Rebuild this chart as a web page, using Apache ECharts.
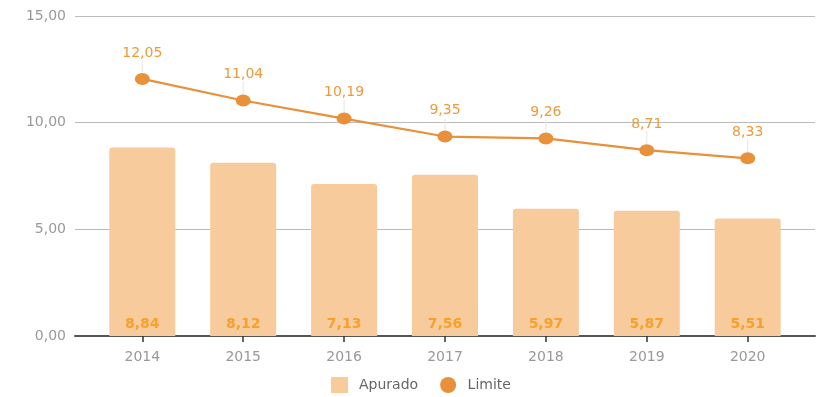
<!DOCTYPE html>
<html>
<head>
<meta charset="utf-8">
<script src="https://cdn.jsdelivr.net/npm/echarts@6/dist/echarts.min.js"></script>
<style>html,body{margin:0;padding:0;background:#fff}#c{width:828px;height:397px}</style>
</head>
<body>
<div id="c"></div>
<script>
const categories = ['2014','2015','2016','2017','2018','2019','2020'];
const apurado = [8.84, 8.12, 7.13, 7.56, 5.97, 5.87, 5.51];
const limite = [12.05, 11.04, 10.19, 9.35, 9.26, 8.71, 8.33];
const yTicks = [0, 5, 10, 15];

const fmt = v => v.toFixed(2).replace('.', ',');
const idx = categories.map((c, i) => i);
const FONT = 'DejaVu Sans';

const chart = echarts.init(document.getElementById('c'), null, {renderer: 'canvas'});
chart.setOption({
  animation: false,
  textStyle: {fontFamily: FONT},
  grid: {left: 75, right: 13, top: 16, bottom: 61, containLabel: false},
  legend: {
    left: 326, top: 372,
    itemWidth: 17, itemHeight: 16, itemGap: 22,
    textStyle: {fontFamily: FONT, fontSize: 14, color: '#666', padding: [0, 0, 0, 6]},
    data: [
      {name: 'Apurado', icon: 'rect', itemStyle: {color: '#F8CB9D'}},
      {name: 'Limite', icon: 'circle', itemStyle: {color: '#E8913A'}}
    ]
  },
  xAxis: {
    type: 'value',
    min: -0.667, max: 6.667,
    splitLine: {show: false},
    axisLine: {show: true, onZero: false, lineStyle: {color: '#555', width: 2}},
    axisTick: {show: true, length: 6, customValues: idx, lineStyle: {color: '#333', width: 1.5}},
    axisLabel: {
      customValues: idx, margin: 14,
      fontFamily: FONT, fontSize: 14, color: '#999',
      formatter: v => categories[Math.round(v)]
    }
  },
  yAxis: {
    type: 'value', min: yTicks[0], max: yTicks[yTicks.length - 1], interval: 5,
    axisLine: {show: false}, axisTick: {show: false},
    splitLine: {lineStyle: {color: '#bbb', width: 1}},
    axisLabel: {fontFamily: FONT, fontSize: 14, color: '#999', margin: 9, formatter: v => fmt(v)}
  },
  series: [
    {
      name: 'Apurado', type: 'bar',
      data: apurado.map((v, i) => [i, v]),
      barWidth: 66,
      itemStyle: {color: '#F8CB9D', borderRadius: [3, 3, 0, 0]},
      label: {
        show: true, position: 'insideBottom', distance: 5,
        fontFamily: FONT, fontSize: 14, fontWeight: 'bold', color: '#F7A02A',
        formatter: p => fmt(p.value[1])
      },
      z: 2
    },
    {
      name: 'Limite', type: 'line',
      data: limite.map((v, i) => [i, v]),
      symbol: 'circle', symbolSize: [15, 12],
      lineStyle: {color: '#E8903A', width: 2.2},
      itemStyle: {color: '#E8903A'},
      label: {
        show: true, position: 'top', distance: 4,
        fontFamily: FONT, fontSize: 14, color: '#EE9A3A',
        formatter: p => fmt(p.value[1])
      },
      labelLayout: {dy: -9},
      labelLine: {show: true, lineStyle: {color: '#e6e6e6', width: 1}},
      z: 3
    }
  ]
});
</script>
</body>
</html>
